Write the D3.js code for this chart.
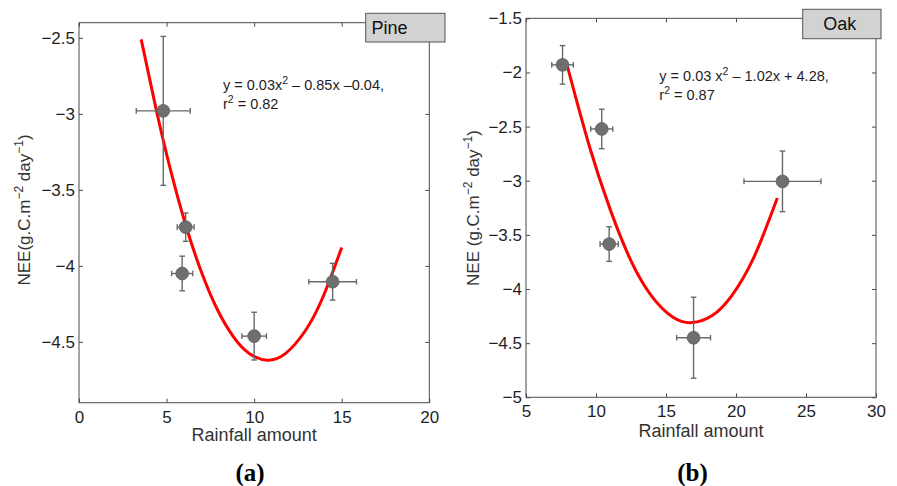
<!DOCTYPE html>
<html>
<head>
<meta charset="utf-8">
<script src="https://cdn.jsdelivr.net/npm/d3@7/dist/d3.min.js"></script>
<style>
  html, body { margin: 0; padding: 0; background: #fff; }
  svg { display: block; }
  text { font-family: "Liberation Sans", Arial, Helvetica, sans-serif; }
</style>
</head>
<body>
<svg id="fig" width="897" height="486"></svg>
<script>
// ---- Pine stand: rainfall vs NEE (means with error bars) ----
const pineRain    = [4.81, 6.09, 5.89, 10.0, 14.48];
const pineRainErr = [1.54, 0.48, 0.60, 0.70, 1.36];
const pineNEE     = [-2.98, -3.745, -4.05, -4.462, -4.104];
const pineNEEErr  = [0.49, 0.093, 0.114, 0.157, 0.121];
// fitted quadratic, sampled along its length
const pineFitX = [3.55, 4.4, 5.2, 6.1, 7.0, 7.9, 8.8, 9.7, 10.75, 11.8, 12.9, 13.9, 15.0];
const pineFitY = [-2.51, -2.967, -3.357, -3.734, -4.043, -4.287, -4.464, -4.575, -4.62, -4.575, -4.43, -4.213, -3.879];
const pineXTicks = [0, 5, 10, 15, 20];
const pineYTicks = [-4.5, -4, -3.5, -3, -2.5];

// ---- Oak stand ----
const oakRain    = [7.61, 10.41, 10.94, 16.97, 23.32];
const oakRainErr = [0.77, 0.79, 0.65, 1.21, 2.75];
const oakNEE     = [-1.93, -2.522, -3.585, -4.45, -3.006];
const oakNEEErr  = [0.178, 0.182, 0.16, 0.374, 0.28];
const oakFitX = [7.95, 9.5, 11.0, 12.5, 14.0, 15.5, 16.85, 18.3, 19.7, 21.3, 22.95];
const oakFitY = [-1.94, -2.67, -3.26, -3.74, -4.07, -4.26, -4.31, -4.245, -4.06, -3.70, -3.16];
const oakXTicks = [5, 10, 15, 20, 25, 30];
const oakYTicks = [-5, -4.5, -4, -3.5, -3, -2.5, -2, -1.5];

const svg = d3.select("#fig");
const fmt = d3.format("");

function panel(cfg) {
  const g = svg.append("g");
  const x = d3.scaleLinear().domain(cfg.xDomain).range([cfg.left, cfg.right]);
  const y = d3.scaleLinear().domain(cfg.yDomain).range([cfg.bottom, cfg.top]);
  const axisColor = "#4a4a4a";

  // inward ticks on all four sides
  const axes = [
    [d3.axisBottom(x).tickValues(cfg.xTicks).tickFormat(fmt).tickSizeInner(-4).tickSizeOuter(0).tickPadding(8), `translate(0,${cfg.bottom})`],
    [d3.axisTop(x).tickValues(cfg.xTicks).tickFormat("").tickSizeInner(-4).tickSizeOuter(0), `translate(0,${cfg.top})`],
    [d3.axisLeft(y).tickValues(cfg.yTicks).tickFormat(fmt).tickSizeInner(-4).tickSizeOuter(0).tickPadding(4), `translate(${cfg.left},0)`],
    [d3.axisRight(y).tickValues(cfg.yTicks).tickFormat("").tickSizeInner(-4).tickSizeOuter(0), `translate(${cfg.right},0)`]
  ];
  axes.forEach(([ax, tr]) => {
    const a = g.append("g").attr("transform", tr).call(ax);
    a.select(".domain").remove();
    a.selectAll("line").attr("stroke", axisColor);
    a.selectAll("text").attr("fill", "#1e1e1e").style("font-size", "17px")
      .style("font-family", "'Liberation Sans', Arial, sans-serif");
  });

  g.append("rect")
    .attr("x", cfg.left).attr("y", cfg.top)
    .attr("width", cfg.right - cfg.left).attr("height", cfg.bottom - cfg.top)
    .attr("fill", "none").attr("stroke", axisColor).attr("stroke-width", 1);

  // fitted curve
  const fit = cfg.fitX.map((d, i) => [d, cfg.fitY[i]]);
  g.append("path")
    .datum(fit)
    .attr("d", d3.line().x(d => x(d[0])).y(d => y(d[1])).curve(d3.curveNatural))
    .attr("fill", "none").attr("stroke", "#ff0000").attr("stroke-width", 3);

  // error bars
  const pts = cfg.xs.map((d, i) => ({ x: d, y: cfg.ys[i], ex: cfg.exs[i], ey: cfg.eys[i] }));
  const eb = g.append("g").attr("stroke", "#686868").attr("stroke-width", 1.4).attr("fill", "none");
  const cap = 2.8;
  pts.forEach(p => {
    const cx = x(p.x), cy = y(p.y);
    const x0 = x(p.x - p.ex), x1 = x(p.x + p.ex);
    const y0 = y(p.y + p.ey), y1 = y(p.y - p.ey);
    eb.append("line").attr("x1", x0).attr("x2", x1).attr("y1", cy).attr("y2", cy);
    eb.append("line").attr("x1", cx).attr("x2", cx).attr("y1", y0).attr("y2", y1);
    eb.append("line").attr("x1", x0).attr("x2", x0).attr("y1", cy - cap).attr("y2", cy + cap);
    eb.append("line").attr("x1", x1).attr("x2", x1).attr("y1", cy - cap).attr("y2", cy + cap);
    eb.append("line").attr("x1", cx - cap).attr("x2", cx + cap).attr("y1", y0).attr("y2", y0);
    eb.append("line").attr("x1", cx - cap).attr("x2", cx + cap).attr("y1", y1).attr("y2", y1);
  });

  g.selectAll("circle.pt").data(pts).enter().append("circle")
    .attr("class", "pt")
    .attr("cx", d => x(d.x)).attr("cy", d => y(d.y)).attr("r", 6.4)
    .attr("fill", "#6f6f6f").attr("stroke", "#5e5e5e").attr("stroke-width", 0.8);

  // equation
  const eq = g.append("text").attr("x", cfg.eqX).attr("y", cfg.eqY)
    .style("font-size", "14.5px").attr("fill", "#1e1e1e");
  eq.append("tspan").text(cfg.eqA);
  eq.append("tspan").attr("dy", -6).style("font-size", "10.5px").text("2");
  eq.append("tspan").attr("dy", 6).text(cfg.eqB);
  const r2 = g.append("text").attr("x", cfg.eqX).attr("y", cfg.eqY + 19)
    .style("font-size", "14.5px").attr("fill", "#1e1e1e");
  r2.append("tspan").text("r");
  r2.append("tspan").attr("dy", -6).style("font-size", "10.5px").text("2");
  r2.append("tspan").attr("dy", 6).text(" = " + cfg.r2);

  // label box
  g.append("rect")
    .attr("x", cfg.box[0]).attr("y", cfg.box[1]).attr("width", cfg.box[2]).attr("height", cfg.box[3])
    .attr("fill", "#d2d2d2").attr("stroke", "#555").attr("stroke-width", 1);
  g.append("text").attr("x", cfg.nameX).attr("y", cfg.nameY)
    .style("font-size", "18px").attr("fill", "#111").text(cfg.name);

  // axis titles
  g.append("text").attr("x", (cfg.left + cfg.right) / 2).attr("y", cfg.xTitleY)
    .attr("text-anchor", "middle").style("font-size", "18px").attr("fill", "#333")
    .text("Rainfall amount");
  const yt = g.append("text")
    .attr("transform", `translate(${cfg.yTitleX},${cfg.yTitleCY}) rotate(-90)`)
    .attr("text-anchor", "middle").style("font-size", "17px").attr("fill", "#333");
  yt.append("tspan").text(cfg.yTitleLead + "(g.C.m");
  yt.append("tspan").attr("dy", -7).style("font-size", "12px").text("−2");
  yt.append("tspan").attr("dy", 7).text(" day");
  yt.append("tspan").attr("dy", -7).style("font-size", "12px").text("−1");
  yt.append("tspan").attr("dy", 7).text(")");

  // panel letter
  svg.append("text").attr("x", cfg.letterX).attr("y", 481)
    .attr("text-anchor", "middle")
    .style("font-family", "'Liberation Serif', 'Times New Roman', serif")
    .style("font-weight", "bold").style("font-size", "25px").attr("fill", "#000")
    .text(cfg.letter);
}

panel({
  left: 79, right: 429.3, top: 22.7, bottom: 402.7,
  xDomain: [0, 20], yDomain: [-4.9, -2.4],
  xTicks: pineXTicks, yTicks: pineYTicks,
  xs: pineRain, exs: pineRainErr, ys: pineNEE, eys: pineNEEErr,
  fitX: pineFitX, fitY: pineFitY,
  eqX: 223, eqY: 89.5, eqA: "y = 0.03x", eqB: " – 0.85x –0.04,", r2: "0.82",
  box: [365.7, 13.3, 79.3, 28.7], name: "Pine", nameX: 371.5, nameY: 33.5,
  xTitleY: 441, yTitleX: 29.5, yTitleCY: 210, yTitleLead: "NEE",
  letter: "(a)", letterX: 250
});

panel({
  left: 526, right: 876, top: 18.3, bottom: 397.3,
  xDomain: [5, 30], yDomain: [-5, -1.5],
  xTicks: oakXTicks, yTicks: oakYTicks,
  xs: oakRain, exs: oakRainErr, ys: oakNEE, eys: oakNEEErr,
  fitX: oakFitX, fitY: oakFitY,
  eqX: 659.3, eqY: 81, eqA: "y = 0.03 x", eqB: " – 1.02x + 4.28,", r2: "0.87",
  box: [802.7, 9.3, 78.3, 29.4], name: "Oak", nameX: 823.3, nameY: 29.5,
  xTitleY: 436.7, yTitleX: 478.5, yTitleCY: 208, yTitleLead: "NEE ",
  letter: "(b)", letterX: 692.5
});
</script>
</body>
</html>
